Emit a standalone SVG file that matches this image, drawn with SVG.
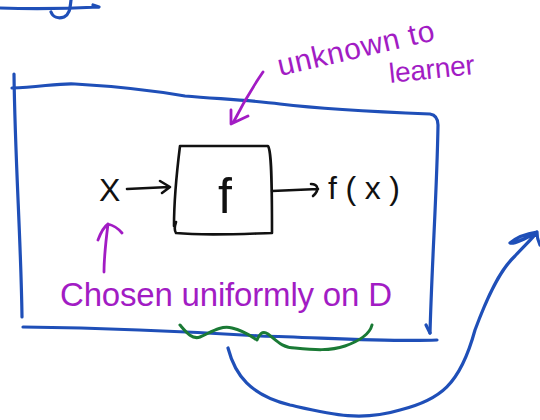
<svg xmlns="http://www.w3.org/2000/svg" width="540" height="420" viewBox="0 0 540 420">
<style>
.b{fill:none;stroke:#1f4fb8;stroke-width:3.2;stroke-linecap:round;stroke-linejoin:round}
.k{fill:none;stroke:#111;stroke-width:2.6;stroke-linecap:round;stroke-linejoin:round}
.p{fill:none;stroke:#a21cc4;stroke-width:2.8;stroke-linecap:round;stroke-linejoin:round}
.g{fill:none;stroke:#1a7a35;stroke-width:3;stroke-linecap:round;stroke-linejoin:round}
.tp{fill:#a21cc4;font-family:"Liberation Sans",Arial,sans-serif}
.tk{fill:#111;font-family:"Liberation Sans",Arial,sans-serif}
</style>
<rect width="540" height="420" fill="#fff"/>
<!-- top-left fragment -->
<path class="b" d="M0,8 C30,9 60,9 99,7 M93,5 L99,7"/>
<path class="b" d="M71,0 C70,8 70,14 64,17 C58,19 53,17 51,12"/>
<!-- outer box -->
<g id="domain">
<path class="b" d="M14,74 C15,160 21,240 22,317"/>
<path class="b" d="M12,88 C40,87 60,83 75,84 C110,86 150,90 185,96 C220,99 250,100 280,104 C330,110 380,112 430,114 C436,115 438,119 438,125 C437,190 432,260 430,333"/>
<path class="b" d="M426,325 L430,333"/>
<path class="b" d="M23,327 C100,328 180,331 260,336 C330,338 390,342 437,340"/>
</g>
<!-- inner box f -->
<g id="f">
<path class="k" d="M180,146 L268,146 C271,150 272,170 272,233 C240,234 205,236 176,233 C174,230 175,225 176,222 L174,226 C174,195 177,170 180,146 Z"/>
<text class="tk" x="225" y="213" font-size="50" text-anchor="middle">f</text>
</g>
<g id="x"><text class="tk" x="99" y="201" font-size="32">X</text></g>
<g id="fx"><text class="tk" x="328" y="199" font-size="32" textLength="72">f(x)</text></g>
<!-- connectors -->
<g id="connectors">
<path class="k" d="M127,189 L169,187 M160,181 L170,187 L162,193"/>
<path class="k" d="M272,191 L318,189 M311,184 C318,184 320,190 313,196"/>
<path class="p" d="M104,272 C104,258 106,240 108,224 M98,240 C101,232 105,226 108,224 C112,225 117,227 122,233"/>
<path class="p" d="M263,72 C252,88 242,105 233,123 M231,110 L231,124 L248,116"/>
<path class="b" d="M228,348 C235,375 250,395 290,405 C330,414 360,422 400,410 C440,400 460,385 475,330 C488,295 500,270 515,256 C525,245 533,238 537,232 M537,232 C530,233 518,236 510,243 C513,244 525,239 537,232 M537,232 C537,237 538,241 540,245"/>
</g>
<!-- annotations -->
<g id="unknown">
<text class="tp" x="280" y="76" font-size="30" textLength="160" transform="rotate(-13 280 76)">unknown to</text>
<text class="tp" x="390" y="83" font-size="28" textLength="86" transform="rotate(-6 390 83)">learner</text>
</g>
<g id="chosen">
<text class="tp" x="60" y="306" font-size="33" textLength="332">Chosen uniformly on D</text>
</g>
<path class="g" d="M180,325 C186,332 192,340 200,337 C210,333 220,325 232,328 C245,331 252,337 257,340 C259,335 262,330 268,334 C276,340 282,348 295,348 C315,350 330,351 345,346 C362,340 370,333 372,325"/>
</svg>
